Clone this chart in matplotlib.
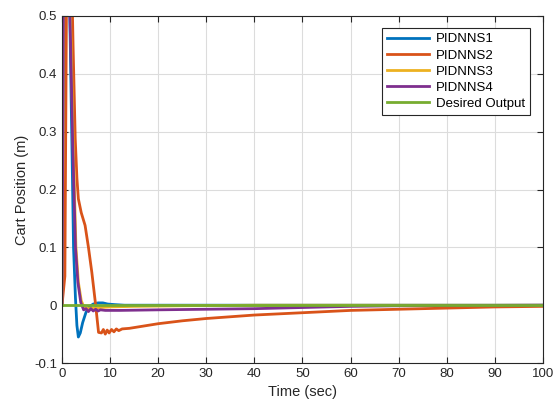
import numpy as np
import matplotlib
matplotlib.use("Agg")
import matplotlib.pyplot as plt

plt.rcParams["font.family"] = ["Liberation Sans", "DejaVu Sans"]

t_pid1 = [0, 0.5, 1.4, 1.9, 2.1, 2.4, 2.8, 3.1, 3.4, 3.8, 4.3, 5.0, 5.6, 6.5, 7.5, 8.5, 9.5, 11, 13, 100]
y_pid1 = [0, 0.62, 0.62, 0.36, 0.26, 0.1, 0.012, -0.035, -0.055, -0.048, -0.03, -0.012, -0.003, 0.002, 0.004, 0.004, 0.002, 0.001, 0, 0]

t_pid2 = [0, 0.6, 1.0, 1.9, 2.3, 2.75, 3.1, 3.4, 4.0, 4.8, 5.5, 6.2, 7.0, 7.6, 8.2, 8.6, 9.0, 9.4, 9.8,
          10.3, 10.8, 11.3, 11.8, 12.5, 14, 17, 20, 25, 30, 40, 50, 60, 70, 80, 90, 100]
y_pid2 = [0, 0.05, 0.62, 0.62, 0.45, 0.288, 0.22, 0.184, 0.16, 0.138, 0.1, 0.057, 0.0, -0.047, -0.048, -0.042,
          -0.05, -0.043, -0.048, -0.042, -0.046, -0.041, -0.044, -0.041, -0.04, -0.036, -0.032, -0.027, -0.023,
          -0.017, -0.013, -0.009, -0.007, -0.005, -0.003, -0.002]

t_pid3 = [0, 0.4, 1.3, 1.9, 2.3, 2.9, 3.4, 4.0, 4.6, 5.5, 6.5, 8, 10, 15, 25, 40, 100]
y_pid3 = [0, 0.62, 0.62, 0.45, 0.29, 0.1, 0.04, 0.008, -0.004, -0.006, -0.005, -0.004, -0.003, -0.002, -0.001, 0, 0]

t_pid4 = [0, 0.35, 1.3, 1.8, 2.2, 2.8, 3.3, 3.9, 4.5, 5.0, 5.5, 6.0, 6.5, 7.0, 7.5, 8.0, 9, 12, 20, 30, 40, 50, 60, 70, 100]
y_pid4 = [0, 0.62, 0.62, 0.45, 0.29, 0.1, 0.04, 0.005, -0.008, -0.006, -0.011, -0.006, -0.01, -0.007, -0.01, -0.008,
          -0.009, -0.009, -0.008, -0.007, -0.006, -0.004, -0.002, -0.001, 0]

t_ref = [0, 100]
y_ref = [0, 0]

labels = ["PIDNNS1", "PIDNNS2", "PIDNNS3", "PIDNNS4", "Desired Output"]
colors = ["#0072BD", "#D95319", "#EDB120", "#7E2F8E", "#77AC30"]

fig = plt.figure(figsize=(5.55, 4.07), dpi=100)
ax = fig.add_axes([0.1117, 0.108, 0.8666, 0.8527])

series = [(t_pid1, y_pid1), (t_pid2, y_pid2), (t_pid3, y_pid3), (t_pid4, y_pid4), (t_ref, y_ref)]
for (t, y), lab, c in zip(series, labels, colors):
    ax.plot(t, y, color=c, lw=2, label=lab)

ax.set_xlim(0, 100)
ax.set_ylim(-0.1, 0.5)
ax.set_xticks(np.arange(0, 101, 10))
ax.set_yticks(np.arange(-0.1, 0.51, 0.1))
ax.set_yticklabels(["-0.1", "0", "0.1", "0.2", "0.3", "0.4", "0.5"])
ax.grid(True, color="#dcdcdc", lw=0.8)
ax.set_axisbelow(True)
ax.tick_params(direction="in", top=True, right=True, labelsize=9.5, colors="#262626", length=4)
for s in ax.spines.values():
    s.set_color("#262626")
    s.set_linewidth(0.8)

ax.set_xlabel("Time (sec)", fontsize=10.5, color="#262626")
ax.set_ylabel("Cart Position (m)", fontsize=10.5, color="#262626")

leg = ax.legend(loc="upper right", bbox_to_anchor=(0.974, 0.966), fontsize=9.5, fancybox=False,
                edgecolor="#262626", framealpha=1, handlelength=3.2, labelspacing=0.3,
                borderpad=0.4, handletextpad=0.5, borderaxespad=0)
leg.get_frame().set_linewidth(0.8)

fig.savefig("out.png", dpi=100)
